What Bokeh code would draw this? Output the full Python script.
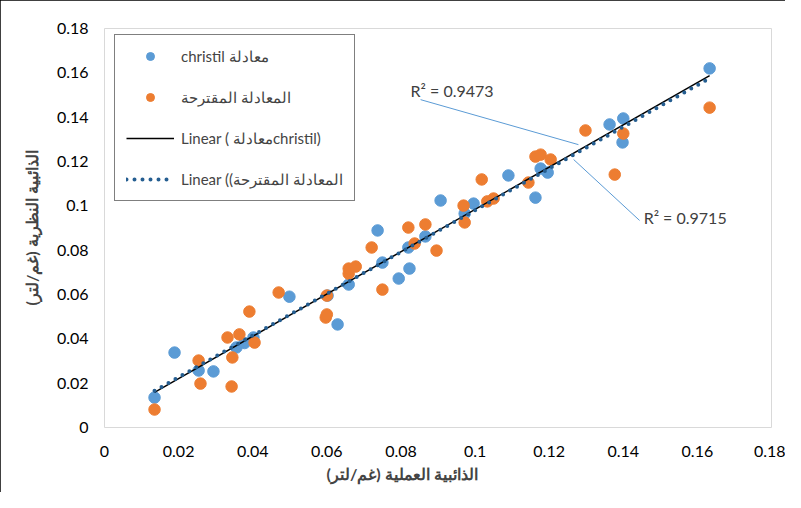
import numpy as np
from bokeh.plotting import figure
from bokeh.models import (Legend, LegendItem, FixedTicker, Label, Range1d, Title)
from bokeh.embed import file_html
from bokeh.resources import INLINE

# ---- data ----
christil_x = [0.0135, 0.0189, 0.0254, 0.0294, 0.0356, 0.0378, 0.0402, 0.0499, 0.0602,
              0.0629, 0.0659, 0.0737, 0.0750, 0.0794, 0.0820, 0.0823, 0.0866, 0.0907,
              0.0972, 0.0996, 0.1090, 0.1163, 0.1177, 0.1196, 0.1363, 0.1398, 0.1400,
              0.1633]
christil_y = [0.0135, 0.0338, 0.0257, 0.0253, 0.0361, 0.0381, 0.0406, 0.0590, 0.0595,
              0.0465, 0.0645, 0.0889, 0.0744, 0.0672, 0.0812, 0.0717, 0.0862, 0.1024,
              0.0965, 0.1010, 0.1137, 0.1037, 0.1168, 0.1150, 0.1367, 0.1286, 0.1394,
              0.1620]

proposed_x = [0.0135, 0.0254, 0.0259, 0.0332, 0.0343, 0.0345, 0.0364, 0.0391, 0.0405,
              0.0470, 0.0597, 0.0600, 0.0600, 0.0659, 0.0659, 0.0678, 0.0721, 0.0750,
              0.0820, 0.0837, 0.0866, 0.0896, 0.0969, 0.0972, 0.1018, 0.1033, 0.1050,
              0.1144, 0.1163, 0.1177, 0.1204, 0.1298, 0.1377, 0.1400, 0.1633]
proposed_y = [0.0081, 0.0302, 0.0198, 0.0406, 0.0185, 0.0316, 0.0420, 0.0523, 0.0383,
              0.0609, 0.0496, 0.0510, 0.0595, 0.0694, 0.0717, 0.0726, 0.0812, 0.0622,
              0.0902, 0.0830, 0.0916, 0.0798, 0.1001, 0.0925, 0.1119, 0.1020, 0.1033,
              0.1105, 0.1222, 0.1231, 0.1209, 0.1340, 0.1141, 0.1326, 0.1443]

ticks = [0, 0.02, 0.04, 0.06, 0.08, 0.1, 0.12, 0.14, 0.16, 0.18]
tick_labels = ["0", "0.02", "0.04", "0.06", "0.08", "0.1", "0.12", "0.14", "0.16", "0.18"]

r2_texts = ["R\u00b2 = 0.9473", "R\u00b2 = 0.9715"]

legend_labels = ["christil معادلة", "المعادلة المقترحة",
                 "Linear ( معادلةchristil)", "Linear ((المعادلة المقترحة"]
x_title = "الذائبية العملية (غم/لتر)"
y_title = "الذائبية النظرية (غم/لتر)"

BLUE = "#5B9BD5"
ORANGE = "#ED7D31"
DOT = "#255E91"
FONT = "Lato"

p = figure(width=785, height=492, output_backend="svg", toolbar_location=None,
           x_range=Range1d(0, 0.18), y_range=Range1d(0, 0.18),
           min_border_left=104, min_border_right=14, min_border_top=28,
           min_border_bottom=65)
p.background_fill_color = "white"
p.border_fill_color = "white"
p.outline_line_color = "#D9D9D9"
p.outline_line_width = 1
p.grid.visible = False
p.styles = {"outline": "1px solid black", "outline-offset": "-1px"}

for ax in (p.xaxis[0], p.yaxis[0]):
    ax.ticker = FixedTicker(ticks=ticks)
    ax.major_label_overrides = {t: l for t, l in zip(ticks, tick_labels)}
    ax.axis_line_color = None
    ax.major_tick_line_color = None
    ax.minor_tick_line_color = None
    ax.major_label_text_font = FONT
    ax.major_label_text_font_size = "16px"
    ax.major_label_text_color = "#000000"
p.xaxis.major_label_standoff = 12
p.yaxis.major_label_standoff = 10

p.yaxis.axis_label = y_title
p.yaxis.axis_label_text_font = FONT
p.yaxis.axis_label_text_font_style = "bold"
p.yaxis.axis_label_text_font_size = "16px"
p.yaxis.axis_label_standoff = 13

# scatter
s1 = p.scatter(christil_x, christil_y, size=11.5, color=BLUE, line_color=BLUE)
s2 = p.scatter(proposed_x, proposed_y, size=11.5, color=ORANGE, line_color=ORANGE)

# linear trendlines (least squares, as Excel)
def fit(xs, ys):
    m, c = np.polyfit(np.array(xs), np.array(ys), 1)
    fx = np.array([min(xs), max(xs)])
    return fx, m * fx + c

fx1, fy1 = fit(christil_x, christil_y)
fx2, fy2 = fit(proposed_x, proposed_y)
l1 = p.line(fx1, fy1, line_color="black", line_width=1.5)
l2 = p.line(fx2, fy2, line_color=DOT, line_width=4, line_dash="0 8", line_cap="round")

# R² labels with leader lines
p.segment(x0=[0.0853, 0.1266], y0=[0.1479, 0.1209], x1=[0.1279, 0.1444], y1=[0.1276, 0.0934],
          line_color=BLUE, line_width=1)
p.add_layout(Label(x=0.0826, y=0.152, text=r2_texts[0], text_font=FONT, text_font_size="16px",
                   text_color="#404040", text_baseline="middle", text_align="left"))
p.add_layout(Label(x=0.1455, y=0.0947, text=r2_texts[1], text_font=FONT, text_font_size="16px",
                   text_color="#404040", text_baseline="middle", text_align="left"))

# x-axis title (offset to the left like the reference)
xt = Title(text=x_title, align="left", offset=222, text_font=FONT, text_font_size="16px",
           text_font_style="bold", standoff=4)
p.add_layout(xt, "below")

legend = Legend(items=[LegendItem(label=legend_labels[0], renderers=[s1]),
                       LegendItem(label=legend_labels[1], renderers=[s2]),
                       LegendItem(label=legend_labels[2], renderers=[l1]),
                       LegendItem(label=legend_labels[3], renderers=[l2])],
                location=(10, 226))
legend.border_line_color = "black"
legend.border_line_width = 1.5
legend.padding = 11
legend.spacing = 21
legend.glyph_width = 48
legend.glyph_height = 20
legend.label_height = 20
legend.label_standoff = 7
legend.label_text_font = FONT
legend.label_text_font_size = "15px"
legend.background_fill_alpha = 1
legend.margin = 0
p.add_layout(legend)

open("out.html", "w").write(file_html(p, INLINE))
